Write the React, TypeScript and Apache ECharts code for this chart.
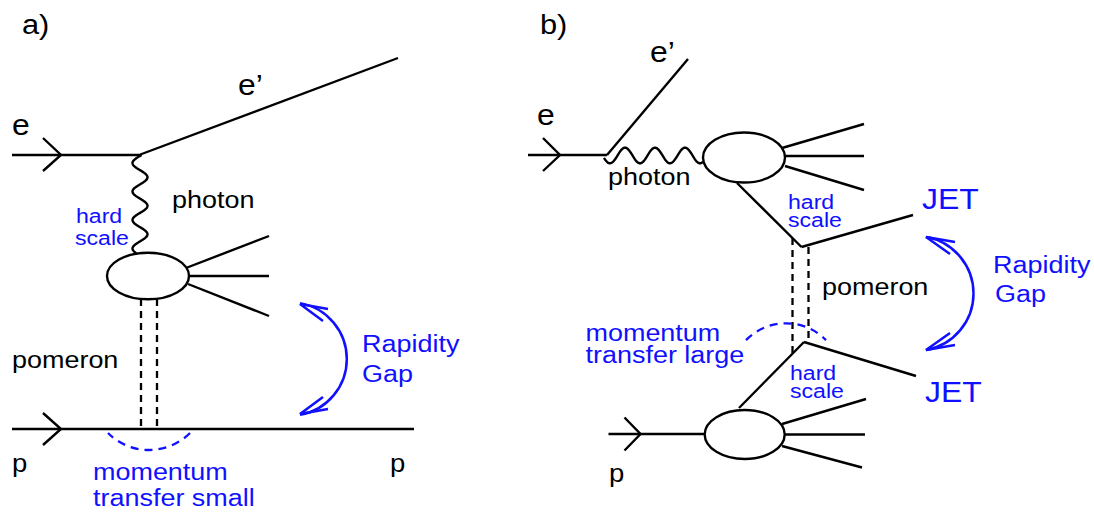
import React, { useEffect, useRef } from "react";
import * as echarts from "echarts";

const FONT = '"Liberation Sans", Arial, Helvetica, sans-serif';
const BLUE = "#1010ff";
const BLACK = "#000000";
const SX = 1.1;

// Solid black lines [x1, y1, x2, y2]
const solidLines: number[][] = [
  // panel a
  [12, 155, 139, 155],
  [139, 155, 398, 58],
  [186, 268, 269, 236],
  [189, 276, 269, 276],
  [188, 284, 269, 316],
  [12, 429, 414, 429],
  // panel b
  [528, 155, 607, 155],
  [607, 155, 688, 59],
  [782, 148, 864, 124],
  [785, 156, 864, 156],
  [785, 166, 864, 190],
  [737, 183, 801.5, 247],
  [801.5, 247, 913, 215],
  [804, 342, 916, 376],
  [804, 342, 739, 408],
  [608.5, 434, 704.5, 434],
  [782, 424, 866, 399],
  [785, 434.5, 865, 434.5],
  [782, 446, 862, 467.5],
];

// Arrow chevrons on incoming particles
const chevrons: number[][][] = [
  [[43, 138], [61, 155], [43, 171]],
  [[43, 413], [61, 429], [43, 445]],
  [[543, 138], [560, 155], [543, 171]],
  [[624.5, 417.5], [640.5, 434], [624.5, 450.5]],
];

// Pomeron dashed lines
const pomeronLines: number[][] = [
  [141, 299, 141, 429],
  [157, 299, 157, 429],
  [792.5, 238, 792.5, 353],
  [808.5, 247, 808.5, 342],
];

// Vertex blobs [cx, cy, rx, ry]
const blobs: number[][] = [
  [148, 276, 41, 23.3],
  [744, 157.5, 41, 25],
  [744.7, 434.5, 40, 24.5],
];

// Blue dashed momentum-transfer arcs [cx, cy, r, start, end]
const momentumArcs: number[][] = [
  [149, 392, 58, Math.PI / 4, (3 * Math.PI) / 4],
  [786, 379.3, 56, -2.366, -0.775],
];

// Rapidity gap arcs [cx, cy, r, start, end]
const gapArcs: number[][] = [
  [290, 359, 56.8, -1.392, 1.392],
  [916.2, 293.5, 57.3, -1.399, 1.399],
];

// Rapidity gap arrowheads
const gapHeads: number[][][] = [
  [[328, 309], [300, 304], [323, 321]],
  [[328, 409], [300, 414], [323, 397]],
  [[955, 242], [926, 237], [950, 254]],
  [[955, 345], [926, 350], [950, 333]],
];

// Labels: [text, x, baseline, fontSize, colour]
const labels: [string, number, number, number, string][] = [
  ["a)", 22, 34, 28, BLACK],
  ["e", 12, 135, 29, BLACK],
  ["e\u2019", 238, 95, 29, BLACK],
  ["photon", 172, 208, 24.5, BLACK],
  ["hard", 76, 223.5, 21, BLUE],
  ["scale", 75, 245.5, 21, BLUE],
  ["pomeron", 12, 368, 24.5, BLACK],
  ["p", 12, 472, 25, BLACK],
  ["p", 390, 472, 25, BLACK],
  ["momentum", 93, 480, 24.5, BLUE],
  ["transfer small", 93, 506, 24.5, BLUE],
  ["Rapidity", 362, 352, 24.5, BLUE],
  ["Gap", 362, 381.5, 24.5, BLUE],
  ["b)", 540, 33.5, 28, BLACK],
  ["e", 537, 125, 29, BLACK],
  ["e\u2019", 650, 62, 29, BLACK],
  ["photon", 608, 185, 24.5, BLACK],
  ["hard", 788, 209.5, 21, BLUE],
  ["scale", 788, 227, 21, BLUE],
  ["JET", 922, 209, 29, BLUE],
  ["pomeron", 822, 295, 24.5, BLACK],
  ["momentum", 585.5, 340.5, 24.5, BLUE],
  ["transfer large", 585.5, 362.5, 24.5, BLUE],
  ["hard", 790, 380, 21, BLUE],
  ["scale", 790, 398, 21, BLUE],
  ["JET", 925, 402, 29, BLUE],
  ["Rapidity", 993, 273, 24.5, BLUE],
  ["Gap", 995, 302, 24.5, BLUE],
  ["p", 609, 482, 25, BLACK],
];

// Photon propagators (wavy lines)
const photonA = { from: 155, to: 253.5, at: 140, amp: 7.5, period: 28.5, origin: 155.9 };
const photonB = { from: 604, to: 703, at: 155.5, amp: 7.8, period: 30, origin: 602.5 };

function wavePoints(p: typeof photonA, vertical: boolean): number[][] {
  const pts: number[][] = [];
  const steps = 160;
  for (let i = 0; i <= steps; i++) {
    const s = p.from + ((p.to - p.from) * i) / steps;
    const off = p.amp * Math.sin((2 * Math.PI * (s - p.origin)) / p.period);
    pts.push(vertical ? [p.at - off, s] : [s, p.at + off]);
  }
  return pts;
}

function buildGraphic() {
  const g: any[] = [];
  const lw = 2.4;
  blobs.forEach(([cx, cy, rx, ry]) =>
    g.push({ type: "ellipse", shape: { cx, cy, rx, ry }, style: { stroke: BLACK, fill: "#fff", lineWidth: lw }, z: 2 })
  );
  solidLines.forEach(([x1, y1, x2, y2]) =>
    g.push({ type: "line", shape: { x1, y1, x2, y2 }, style: { stroke: BLACK, lineWidth: lw }, z: 1 })
  );
  chevrons.forEach((points) =>
    g.push({ type: "polyline", shape: { points }, style: { stroke: BLACK, lineWidth: lw, fill: "none" }, z: 1 })
  );
  pomeronLines.forEach(([x1, y1, x2, y2]) =>
    g.push({ type: "line", shape: { x1, y1, x2, y2 }, style: { stroke: BLACK, lineWidth: 2.3, lineDash: [7, 5] }, z: 1 })
  );
  g.push({ type: "polyline", shape: { points: wavePoints(photonA, true) }, style: { stroke: BLACK, lineWidth: lw, fill: "none" }, z: 1 });
  g.push({ type: "polyline", shape: { points: wavePoints(photonB, false) }, style: { stroke: BLACK, lineWidth: lw, fill: "none" }, z: 1 });
  momentumArcs.forEach(([cx, cy, r, s, e]) =>
    g.push({ type: "arc", shape: { cx, cy, r, startAngle: s, endAngle: e, clockwise: true }, style: { stroke: BLUE, lineWidth: 2.3, fill: "none", lineDash: [8, 6] }, z: 3 })
  );
  gapArcs.forEach(([cx, cy, r, s, e]) =>
    g.push({ type: "arc", shape: { cx, cy, r, startAngle: s, endAngle: e, clockwise: true }, style: { stroke: BLUE, lineWidth: 2.5, fill: "none" }, z: 3 })
  );
  gapHeads.forEach((points) =>
    g.push({ type: "polyline", shape: { points }, style: { stroke: BLUE, lineWidth: 2.5, fill: "none" }, z: 3 })
  );
  labels.forEach(([text, x, base, fs, color]) =>
    g.push({
      type: "text",
      x,
      y: base - 0.3465 * fs,
      scaleX: SX,
      z: 5,
      style: { text, fill: color, font: `${fs}px ${FONT}`, align: "left", verticalAlign: "middle" },
    })
  );
  return g;
}

export default function App() {
  const ref = useRef<HTMLDivElement>(null);
  useEffect(() => {
    if (!ref.current) return;
    const chart = echarts.init(ref.current, undefined, { renderer: "svg" });
    chart.setOption({ animation: false, backgroundColor: "#ffffff", graphic: buildGraphic() });
    return () => chart.dispose();
  }, []);
  return (
    <div
      ref={ref}
      style={{ position: "fixed", left: 0, top: 0, width: 1094, height: 515, background: "#fff" }}
    />
  );
}
